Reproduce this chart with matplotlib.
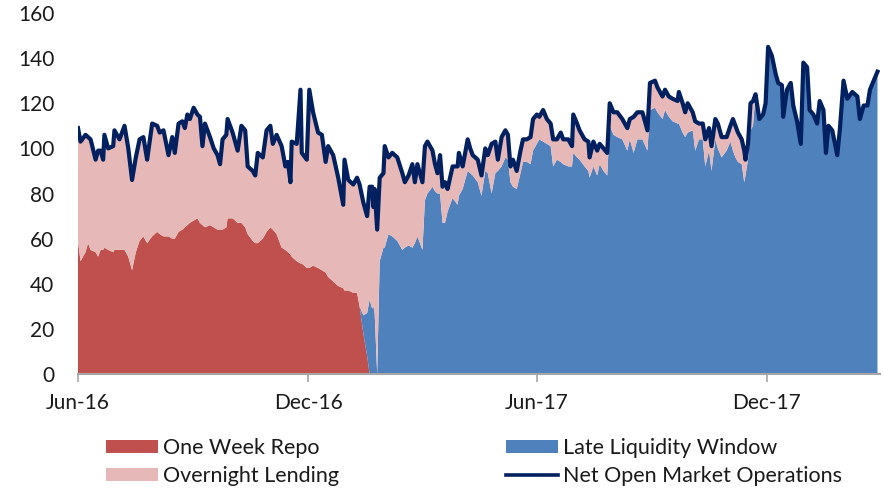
import numpy as np
import matplotlib

matplotlib.use("Agg")
import matplotlib.pyplot as plt  # noqa: E402
import matplotlib.dates as mdates  # noqa: E402
from matplotlib.patches import Patch  # noqa: E402
from matplotlib.lines import Line2D  # noqa: E402

plt.rcParams["font.family"] = ["Lato", "DejaVu Sans"]

# dias contados a partir de 1-jun-2016
START = np.datetime64("2016-06-01")

days = [
    0, 2, 6, 8, 10, 14, 16, 18, 20, 21, 24, 28, 29, 33, 37, 40, 43, 46, 49, 52,
    55, 59, 63, 65, 68, 72, 75, 77, 80, 83, 85, 87, 89, 92, 95, 97, 99, 101, 105, 108,
    111, 113, 115, 118, 119, 123, 127, 130, 133, 135, 139, 141, 143, 147, 150, 153, 155, 158, 162, 165,
    167, 169, 170, 174, 177, 178, 182, 184, 187, 191, 194, 197, 199, 203, 207, 211, 212, 215, 219, 222,
    224,
    227, 230,
    232, 234, 235, 236, 238, 240, 243, 244, 247, 250, 254, 258, 260, 263, 266, 268, 270, 274, 276, 278,
    282, 284, 286, 288, 290, 292, 294, 298, 302, 303, 306, 310, 312, 314, 318, 321, 324, 326, 329, 332,
    334, 337, 340, 342, 344, 346, 349, 352, 354, 357, 360, 362, 365, 367, 370, 373, 376, 378, 381, 384,
    386, 390, 393, 394, 397, 399, 403, 406, 407, 410, 413, 415, 418, 421, 423, 426, 429, 433, 437, 439,
    442, 445, 449, 453, 455, 459, 461, 465, 467, 470, 473, 477, 478, 481, 483, 485, 489, 491, 494, 497,
    499, 502, 504, 507, 509, 512, 516, 519, 521, 523, 525, 528, 530, 531, 533, 535, 537,
    539, 542, 545, 547, 549, 552, 555, 557, 560, 561, 564, 567, 569, 572, 575, 577, 580, 582, 585, 588,
    590, 593, 595, 597, 600, 604, 606, 609, 612, 616, 620, 622, 625, 628, 630, 633, 636,
]

net_omo = [
    109, 103, 106, 105, 104, 95, 99, 99, 95, 106, 100, 101, 108, 104, 110, 100, 86, 96, 104, 105,
    95, 111, 110, 107, 108, 97, 105, 98, 111, 112, 109, 115, 113, 118, 115, 114, 101, 111, 105, 100,
    97, 93, 104, 106, 113, 107, 99, 110, 108, 92, 90, 88, 98, 96, 108, 110, 102, 106, 101, 92,
    94, 85, 103, 102, 126, 98, 95, 126, 116, 107, 106, 94, 101, 97, 87, 75, 95, 86, 84, 87,
    84,
    76, 70,
    83, 83, 74, 82, 64, 87, 89, 101, 96, 98, 96, 89, 85, 88, 93, 85, 93, 85, 101, 103,
    99, 93, 89, 97, 83, 85, 82, 92, 92, 98, 92, 104, 100, 97, 95, 88, 100, 97, 102, 103,
    95, 105, 108, 106, 92, 95, 90, 99, 104, 104, 105, 113, 115, 114, 117, 113, 111, 104, 104, 107,
    104, 104, 101, 115, 111, 108, 104, 103, 96, 103, 99, 102, 100, 98, 120, 116, 116, 113, 109, 113,
    114, 116, 116, 108, 129, 130, 127, 123, 126, 123, 122, 121, 125, 120, 116, 120, 116, 112, 111, 111,
    104, 109, 101, 113, 111, 105, 105, 110, 113, 110, 107, 104, 99, 95, 102, 120, 121,
    124, 113, 115, 120, 145, 141, 133, 129, 128, 114, 126, 129, 119, 112, 102, 138, 136, 117, 115, 111,
    121, 117, 98, 110, 108, 97, 108, 130, 122, 125, 123, 113, 119, 119, 126, 130, 134,
]

# one week repo: só até jan-2017, depois zero
repo_vals = [
    59, 50, 54, 58, 55, 54, 52, 55, 55, 56, 55, 54, 55, 55, 55, 52, 46, 54, 59, 61,
    58, 61, 63, 62, 61, 61, 60, 60, 63, 64, 65, 66, 67, 68, 69, 67, 66, 65, 66, 65,
    64, 64, 64, 65, 69, 69, 67, 67, 65, 62, 59, 58, 58, 60, 63, 65, 64, 62, 56, 55,
    54, 53, 52, 50, 49, 49, 47, 47, 48, 47, 46, 45, 43, 41, 39, 38, 37, 37, 36, 36,
    30,
    18, 8,
]

# late liquidity window: começa em jan-2017 (antes disso zero)
LLW_START = 81
llw_vals = [
    8, 19,
    33, 29, 30, 27, 0, 50, 56, 56, 62, 61, 59, 55, 56, 57, 56, 58, 61, 55, 77, 80,
    83, 81, 80, 80, 67, 67, 72, 78, 75, 79, 82, 90, 89, 88, 85, 79, 90, 89, 80, 89,
    90, 92, 96, 95, 85, 83, 82, 89, 94, 94, 93, 99, 102, 104, 103, 102, 101, 92, 95, 94,
    93, 92, 92, 98, 96, 95, 92, 90, 87, 92, 88, 93, 90, 88, 110, 106, 105, 104, 99, 104,
    98, 104, 104, 99, 117, 118, 116, 113, 117, 114, 112, 111, 111, 107, 105, 107, 108, 99, 104, 104,
    92, 99, 90, 104, 100, 96, 99, 103, 99, 96, 94, 93, 85, 88, 95, 108, 110,
]

RED = "#C0504D"
PINK = "#E6B9B8"
BLUE = "#4F81BD"
NAVY = "#002060"
GREY = "#A6A6A6"
TXT = "#1A1A1A"

n = len(days)
assert len(net_omo) == n, (len(net_omo), n)
omo = np.array(net_omo, dtype=float)
repo = np.r_[repo_vals, np.zeros(n - len(repo_vals))]
# depois de meados de dez-2017 a janela de liquidez cobre toda a operação líquida
tail = LLW_START + len(llw_vals)
llw = np.r_[np.zeros(LLW_START), llw_vals, omo[tail:]]
assert len(llw) == n and len(repo) == n
# overnight lending = o que falta entre as outras duas e a linha líquida
overnight = np.clip(omo - repo - llw, 0, None)

x = START + np.array(days).astype("timedelta64[D]")

W, H = 883, 491
fig = plt.figure(figsize=(W / 100, H / 100), dpi=100)
ax = fig.add_axes([78 / W, (H - 374) / H, (880 - 78) / W, (374 - 13) / H])

ax.stackplot(x, repo, llw, overnight, colors=[RED, BLUE, PINK], linewidth=0)
ax.plot(x, omo, color=NAVY, lw=3.0, solid_joinstyle="round", zorder=5)

ax.set_ylim(0, 160)
ax.set_yticks(range(0, 161, 20))
ax.set_xlim(START, START + np.timedelta64(638, "D"))
ax.set_xticks([np.datetime64(d) for d in ("2016-06-01", "2016-12-01", "2017-06-01", "2017-12-01")])
ax.xaxis.set_major_formatter(mdates.DateFormatter("%b-%y"))

for s in ("top", "right", "left"):
    ax.spines[s].set_visible(False)
ax.spines["bottom"].set_color(GREY)
ax.spines["bottom"].set_linewidth(1.5)
ax.tick_params(axis="x", length=6, width=1.2, color=GREY, pad=8, labelsize=15, labelcolor=TXT)
ax.tick_params(axis="y", length=0, pad=17, labelsize=15, labelcolor=TXT)

leg_kw = dict(loc="upper left", frameon=False, fontsize=15.5, handlelength=2.42,
              handleheight=0.59, handletextpad=0.23, labelspacing=0.37,
              borderpad=0, borderaxespad=0, labelcolor=TXT)
fig.legend(handles=[Patch(fc=RED), Patch(fc=PINK)],
           labels=["One Week Repo", "Overnight Lending"],
           bbox_to_anchor=(106 / W, 1 - 438 / H), **leg_kw)
fig.legend(handles=[Patch(fc=BLUE), Line2D([0], [0], color=NAVY, lw=2.6)],
           labels=["Late Liquidity Window", "Net Open Market Operations"],
           bbox_to_anchor=(506 / W, 1 - 438 / H), **leg_kw)

fig.savefig("out.png", dpi=100)
